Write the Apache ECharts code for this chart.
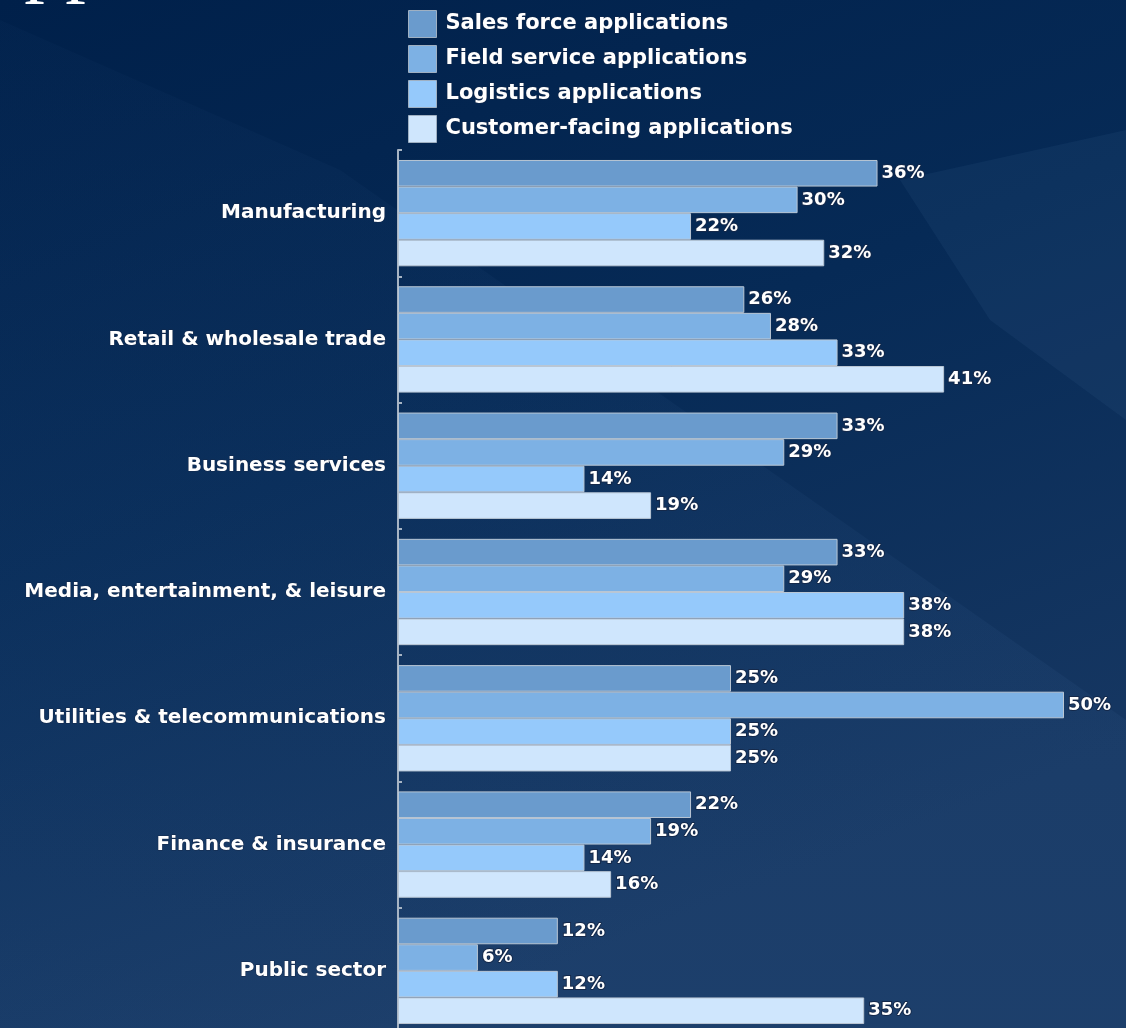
<!DOCTYPE html>
<html>
<head>
<meta charset="utf-8">
<script src="https://cdn.jsdelivr.net/npm/echarts@6/dist/echarts.min.js"></script>
<style>
  html, body { margin: 0; padding: 0; background: #00214b; }
  #chart { width: 1126px; height: 1028px; }
</style>
</head>
<body>
<div id="chart"></div>
<script>
// Industries, top to bottom
const industries = [
  'Manufacturing',
  'Retail & wholesale trade',
  'Business services',
  'Media, entertainment, & leisure',
  'Utilities & telecommunications',
  'Finance & insurance',
  'Public sector'
];

// Share of firms (%) by application type
const salesForce     = [36, 26, 33, 33, 25, 22, 12];
const fieldService   = [30, 28, 29, 29, 50, 19, 6];
const logistics      = [22, 33, 14, 38, 25, 14, 12];
const customerFacing = [32, 41, 19, 38, 25, 16, 35];

const seriesNames = [
  'Sales force applications',
  'Field service applications',
  'Logistics applications',
  'Customer-facing applications'
];
const seriesValues = [salesForce, fieldService, logistics, customerFacing];
const seriesColors = ['#6a9bcd', '#7db1e4', '#95c9fb', '#cfe6fd'];

const FONT = 'DejaVu Sans';

const chart = echarts.init(document.getElementById('chart'), null, { renderer: 'canvas' });

const series = seriesNames.map((name, i) => ({
  name: name,
  type: 'bar',
  data: seriesValues[i],
  barGap: '0%',
  barCategoryGap: '15.8%',
  itemStyle: {
    color: seriesColors[i],
    borderColor: '#b9c6d4',
    borderWidth: 1
  },
  label: {
    show: true,
    position: 'right',
    distance: 4,
    formatter: '{c}%',
    color: '#ffffff',
    fontFamily: FONT,
    fontWeight: 'bold',
    fontSize: 18,
    textBorderColor: '#15294a',
    textBorderWidth: 2
  },
  emphasis: { disabled: true },
  animation: false
}));

chart.setOption({
  backgroundColor: {
    type: 'linear', x: 0, y: 0, x2: 0.35, y2: 1,
    colorStops: [
      { offset: 0, color: '#00204a' },
      { offset: 0.5, color: '#062a56' },
      { offset: 1, color: '#163762' }
    ]
  },
  graphic: [
    // soft lighter sweep across the lower left
    {
      type: 'polygon', silent: true, z: -10,
      shape: { points: [[0, 20], [340, 170], [1126, 720], [1126, 1028], [0, 1028]] },
      style: {
        fill: {
          type: 'linear', x: 0, y: 0, x2: 0, y2: 1,
          colorStops: [
            { offset: 0, color: 'rgba(40,80,130,0.06)' },
            { offset: 1, color: 'rgba(60,100,150,0.18)' }
          ]
        }
      }
    },
    // faint highlight band on the right
    {
      type: 'polygon', silent: true, z: -10,
      shape: { points: [[900, 180], [1126, 130], [1126, 420], [990, 320]] },
      style: { fill: 'rgba(90,130,180,0.09)' }
    },
    // heading, mostly above the top edge
    {
      type: 'text', silent: true, left: -35, top: -77,
      style: {
        text: 'Applications',
        fill: '#ffffff',
        font: '82px "Liberation Serif"'
      }
    }
  ],
  legend: {
    orient: 'vertical',
    left: 408,
    top: 10,
    padding: 0,
    itemWidth: 28,
    itemHeight: 27,
    itemGap: 7,
    icon: 'rect',
    selectedMode: false,
    data: seriesNames,
    itemStyle: { borderColor: '#9fb0c2', borderWidth: 1 },
    textStyle: {
      color: '#ffffff',
      fontFamily: FONT,
      fontWeight: 'bold',
      fontSize: 21,
      padding: [0, 0, 0, 4],
      textBorderColor: '#15294a',
      textBorderWidth: 1
    }
  },
  grid: {
    left: 398,
    right: 62,
    top: 150,
    height: 884,
    outerBoundsMode: 'none'
  },
  xAxis: {
    type: 'value',
    min: 0,
    max: 50,
    show: false
  },
  yAxis: {
    type: 'category',
    inverse: true,
    data: industries,
    axisLine: { show: true, lineStyle: { color: '#a7b4c3', width: 2 } },
    axisTick: { show: true, inside: true, length: 4, lineStyle: { color: '#a7b4c3', width: 2 } },
    axisLabel: {
      color: '#ffffff',
      fontFamily: FONT,
      fontWeight: 'bold',
      fontSize: 20,
      margin: 12,
      textBorderColor: '#15294a',
      textBorderWidth: 1
    },
    splitLine: { show: false }
  },
  series: series
});
</script>
</body>
</html>
